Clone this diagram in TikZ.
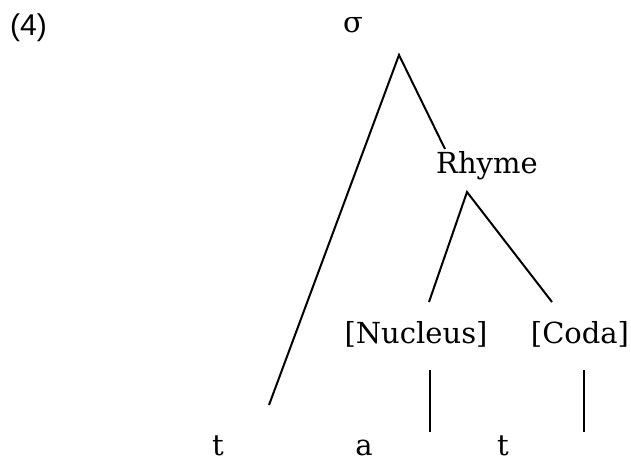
\documentclass[tikz,border=0pt]{standalone}
\usepackage{fontspec}
\setmainfont{DejaVu Serif}
\newfontfamily\numfont{Liberation Sans}
\begin{document}
\begin{tikzpicture}[
  x=1pt, y=-1pt,
  every node/.style={inner sep=0pt, font=\fontsize{29}{34}\selectfont},
  seg/.style={line width=2pt}
]
\useasboundingbox (0,0) rectangle (631,462);
% labels
\node[anchor=base west, font=\numfont\fontsize{30}{34}\selectfont] (num) at (10,36) {(4)};
\node[anchor=base] (sigma) at (353,33) {σ};
\node[anchor=base] (rhyme) at (487,174) {Rhyme};
\node[anchor=base] (nucleus) at (416,343) {[Nucleus]};
\node[anchor=base] (coda) at (580,343) {[Coda]};
\node[anchor=base] (t1) at (218,455) {t};
\node[anchor=base] (a) at (364,455) {a};
\node[anchor=base] (t2) at (503,455) {t};
% line ends
\coordinate (top) at (399,55);
\coordinate (onset) at (269,405);
\coordinate (rtop) at (445,149);
\coordinate (rbot) at (467,192);
\coordinate (ntop) at (429,302);
\coordinate (ctop) at (552,302);
\coordinate (nbot) at (430,370);
\coordinate (na) at (430,432);
\coordinate (cbot) at (584,370);
\coordinate (ct) at (584,432);
% branches
\draw[seg] (onset) -- (top) -- (rtop);
\draw[seg] (ntop) -- (rbot) -- (ctop);
\draw[seg] (nbot) -- (na);
\draw[seg] (cbot) -- (ct);
\end{tikzpicture}
\end{document}
